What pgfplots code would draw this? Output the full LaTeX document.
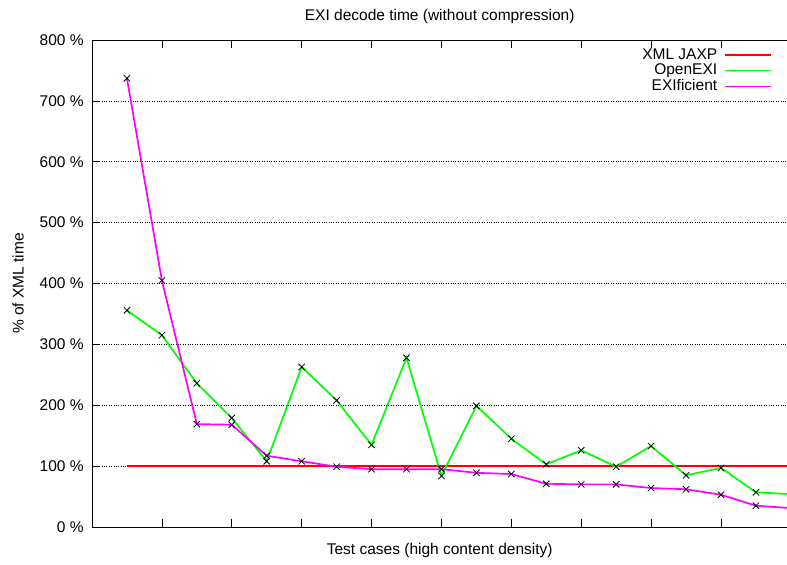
\documentclass[border=0pt]{standalone}
\usepackage{pgfplots}
\pgfplotsset{compat=1.18}
\usepackage{fontspec}
\setmainfont{Liberation Sans}
\definecolor{gpred}{RGB}{255,0,0}
\definecolor{gpgreen}{RGB}{0,255,0}
\definecolor{gpmag}{RGB}{255,0,255}
\begin{document}
\fontsize{15.5bp}{18bp}\selectfont
\begin{tikzpicture}
\useasboundingbox (-92bp,-38bp) rectangle (695bp,527bp);
\begin{axis}[
  at={(0,0)}, anchor=south west,
  scale only axis, width=695.4bp, height=487bp,
  xmin=0, xmax=19.9, ymin=0, ymax=800,
  clip=true,
  axis line style={draw=none},
  xtick={2,4,...,18}, xticklabels={},
  ytick={0,100,...,800},
  yticklabel={\pgfmathprintnumber{\tick} \%},
  /pgf/number format/assume math mode=true,
  tick align=inside, major tick length=8bp,
  tick style={black, line width=0.6bp},
  xtick pos=both, ytick pos=left,
  ymajorgrids, grid style={black, dotted, line width=0.7bp},
  yticklabel style={font=\fontsize{15.5bp}{18bp}\selectfont, xshift=-3bp},
  title={EXI decode time (without compression)},
  every axis title/.style={at={(axis description cs:0.5,1)}, anchor=center, yshift=24bp, font=\fontsize{15.5bp}{18bp}\selectfont},
  xlabel={Test cases (high content density)},
  every axis x label/.style={at={(axis description cs:0.5,0)}, anchor=center, yshift=-23bp, font=\fontsize{15.5bp}{18bp}\selectfont},
  ylabel={\% of XML time},
  every axis y label/.style={at={(axis description cs:-0.1064,0.5)}, anchor=center, rotate=90, font=\fontsize{15.5bp}{18bp}\selectfont},
  legend style={draw=none, fill=none, at={(axis description cs:0.979,0.989)}, anchor=north east,
    font=\fontsize{15.5bp}{18bp}\selectfont, row sep=-1.5bp, column sep=5bp, inner sep=1bp},
  legend cell align=right,
  legend plot pos=right,
]
\addplot[draw=gpred, line width=1.6bp, mark=none] coordinates {(1,100) (20,100)};
\addlegendimage{legend image code/.code={\draw[gpred, line width=1.3bp] (0bp,0bp) -- (46bp,0bp);}}
\addplot[draw=gpgreen, line width=1.7bp, mark=x, mark size=4.5bp, mark options={draw=black, line width=0.8bp}, forget plot] coordinates {
(1,356) (2,315) (3,236) (4,179) (5,108) (6,263) (7,208) (8,135) (9,278) (10,84)
(11,199) (12,145) (13,103) (14,126) (15,99) (16,133) (17,85) (18,97) (19,57) (20,54)};
\addlegendimage{legend image code/.code={\draw[gpgreen, line width=1.4bp] (0bp,0bp) -- (46bp,0bp);}}
\addplot[draw=gpmag, line width=1.7bp, mark=x, mark size=4.5bp, mark options={draw=black, line width=0.8bp}, forget plot] coordinates {
(1,737) (2,405) (3,169) (4,168) (5,117) (6,108) (7,99) (8,95) (9,95) (10,95)
(11,89) (12,87) (13,71) (14,70) (15,70) (16,64) (17,62) (18,53) (19,35) (20,31)};
\addlegendimage{legend image code/.code={\draw[gpmag, line width=1.4bp] (0bp,0bp) -- (46bp,0bp);}}
\legend{,XML JAXP,OpenEXI,EXIficient}
\draw[black, line width=0.8bp] (rel axis cs:1,0) -- (rel axis cs:0,0) -- (rel axis cs:0,1) -- (rel axis cs:1,1);
\end{axis}
\end{tikzpicture}
\end{document}
